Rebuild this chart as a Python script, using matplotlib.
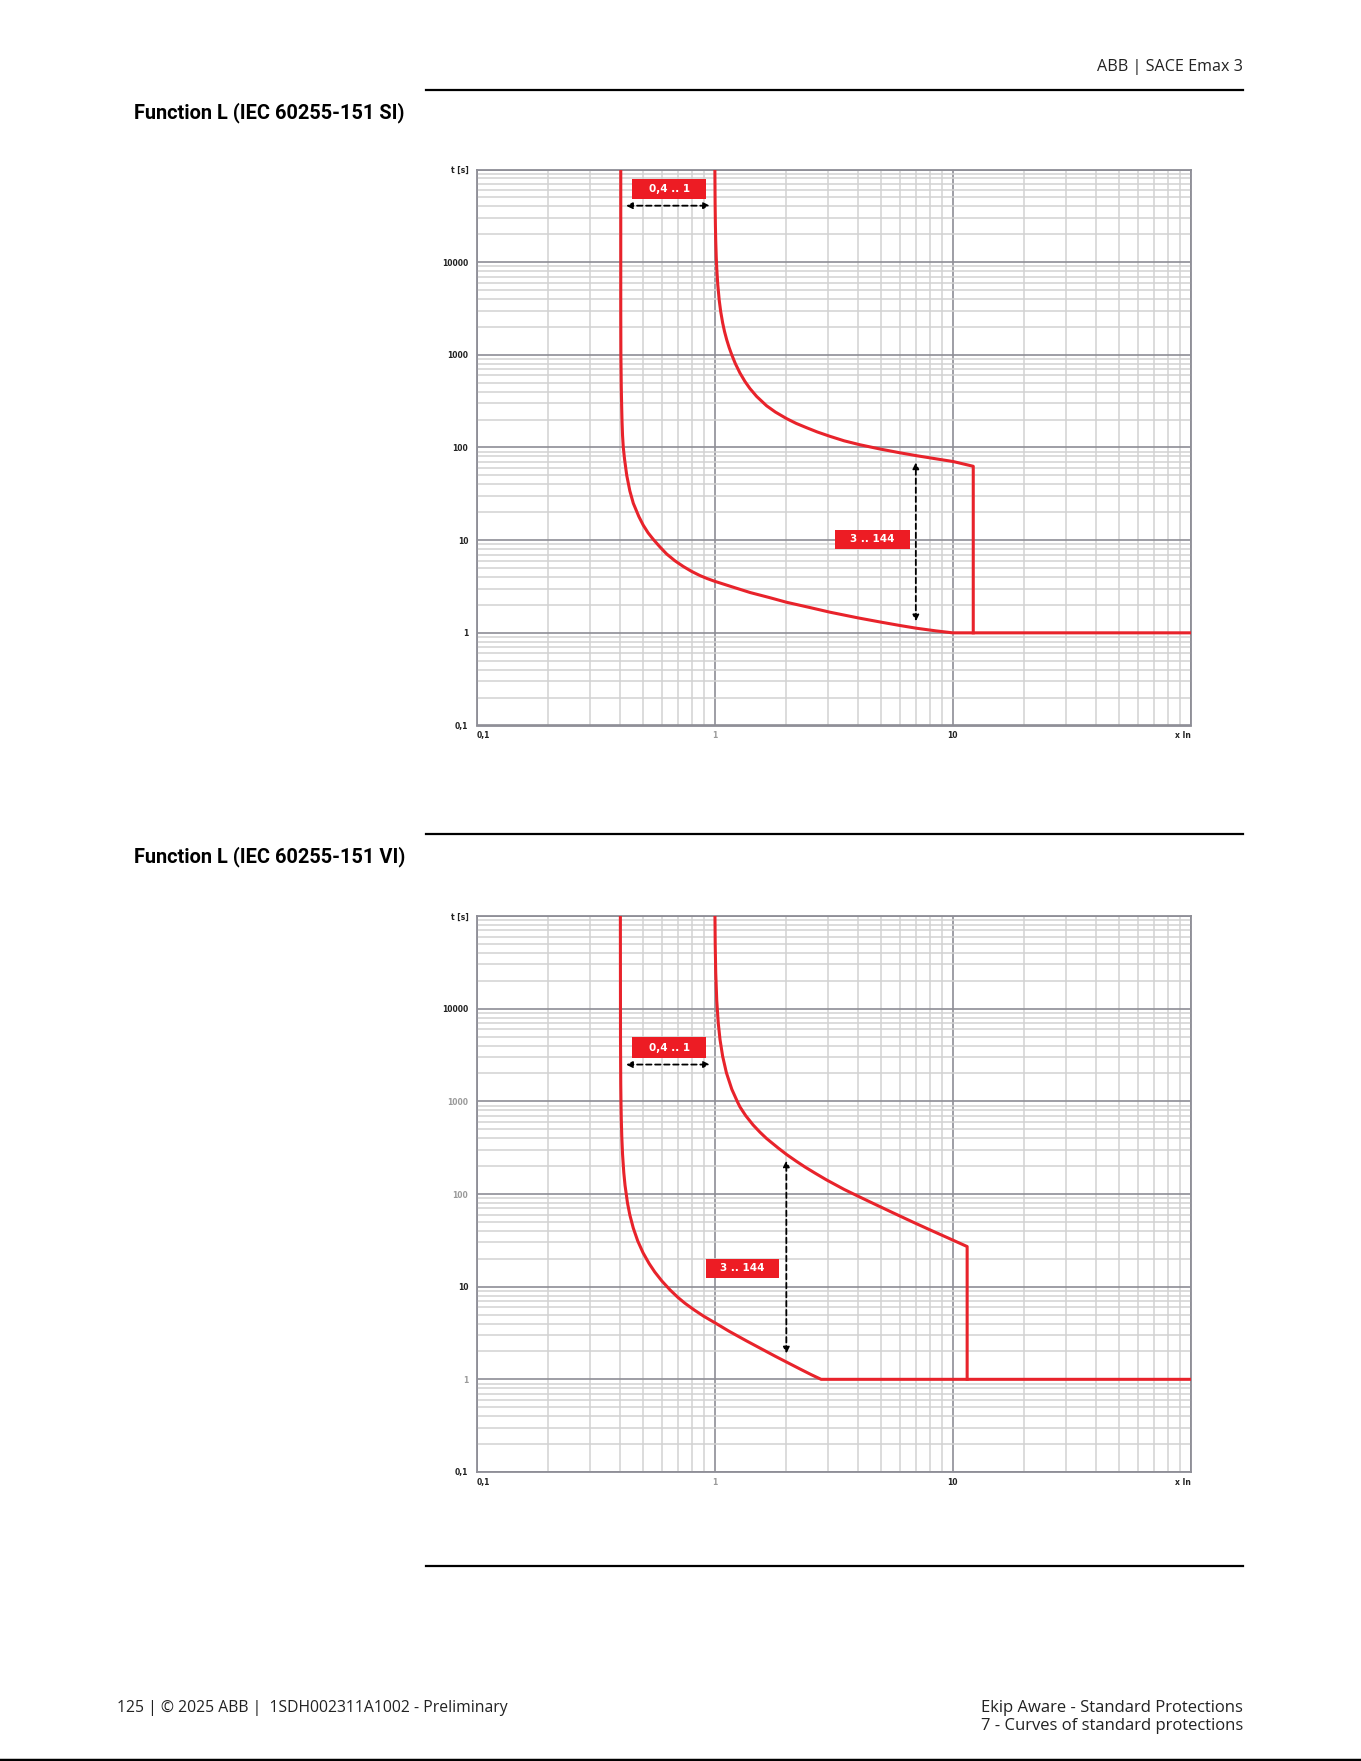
import matplotlib
matplotlib.use("Agg")
import matplotlib.pyplot as plt
from matplotlib.patches import Rectangle
from matplotlib.ticker import LogLocator, NullFormatter

# ---- data (x = I/In, t in s) ----
si_low_x = [0.403, 0.403, 0.4035, 0.405, 0.4065, 0.408, 0.410, 0.413, 0.418, 0.427, 0.440,
            0.455, 0.480, 0.501, 0.525, 0.552, 0.590, 0.628, 0.680, 0.738, 0.800, 0.867,
            0.930, 1.0, 1.2, 1.41, 1.7, 2.0, 2.5, 3.05, 4.0, 4.95, 6.0, 7.06, 8.5, 10.0, 100.0]
si_low_t = [1e5, 3000, 1000, 450, 280, 190, 135, 100, 75, 50, 34,
            25, 18, 14.5, 12, 10.2, 8.4, 7.1, 6.0, 5.2, 4.6, 4.15,
            3.85, 3.6, 3.1, 2.72, 2.4, 2.14, 1.88, 1.67, 1.45, 1.31, 1.2, 1.12, 1.05, 1.0, 1.0]
si_up_x = [1.0017, 1.004, 1.007, 1.01, 1.015, 1.02, 1.03, 1.045, 1.06, 1.08, 1.10, 1.123,
           1.15, 1.179, 1.22, 1.277, 1.34, 1.406, 1.5, 1.652, 1.8, 2.005, 2.2, 2.44, 2.7,
           3.05, 3.5, 4.08, 4.95, 6.0, 7.06, 8.5, 10.06, 12.2, 12.2]
si_up_t = [1e5, 42600, 24400, 17100, 11400, 8590, 5750, 3860, 2920, 2210, 1780, 1457,
           1198, 1003, 808, 636, 516, 433, 356, 282, 241, 205, 182, 163, 147,
           132, 118, 107, 96.3, 87.7, 81.5, 75.5, 70.5, 62.7, 1.0]

vi_low_x = [0.4015, 0.402, 0.403, 0.404, 0.405, 0.407, 0.410, 0.415, 0.420, 0.430, 0.440,
            0.455, 0.475, 0.500, 0.530, 0.560, 0.600, 0.650, 0.700, 0.750, 0.820, 0.900,
            1.0, 1.15, 1.36, 1.6, 1.8, 2.05, 2.3, 2.55, 2.8, 100.0]
vi_low_t = [1e5, 4578, 1526, 915, 654, 416, 269, 170, 124, 80.3, 59.4,
            42.8, 31.1, 23.2, 17.8, 14.4, 11.5, 9.2, 7.67, 6.62, 5.61, 4.79,
            4.09, 3.30, 2.60, 2.08, 1.77, 1.49, 1.28, 1.12, 1.0, 1.0]
vi_up_x = [1.0025, 1.005, 1.01, 1.02, 1.035, 1.053, 1.08, 1.12, 1.18, 1.25, 1.277, 1.35,
           1.45, 1.55, 1.65, 1.735, 1.85, 2.0, 2.2, 2.4, 2.65, 2.95, 3.5, 4.08, 4.8,
           5.62, 6.8, 8.03, 9.5, 11.5, 11.5]
vi_up_t = [1e5, 49000, 24500, 12250, 7000, 4620, 3060, 2033, 1350, 972, 870, 700,
           556, 464, 398, 358, 313, 268, 226, 195, 167, 142, 112, 92.5, 75.8,
           62.6, 49.8, 41.0, 33.8, 27.1, 1.0]

y_ticks = [1e5, 1e4, 1e3, 100, 10, 1, 0.1]
y_labels = ["t [s]", "10000", "1000", "100", "10", "1", "0,1"]
x_ticks = [0.1, 1, 10, 100]
x_labels = ["0,1", "1", "10", "x In"]

range_label = "0,4 .. 1"
time_label = "3 .. 144"

W, H = 1361, 1761
RED = "#e8232b"
BOX = "#ed1c24"
plt.rcParams["font.family"] = ["Open Sans", "DejaVu Sans"]

fig = plt.figure(figsize=(W / 100, H / 100), dpi=100)


def fx(x):
    return x / W


def fy(y):
    return 1 - y / H


def setup_axes(top_px, ylab_colors, xlab_colors):
    ax = fig.add_axes([fx(476.7), fy(top_px + 556), (1190.7 - 476.7) / W, 556 / H])
    ax.set_xscale("log")
    ax.set_yscale("log")
    ax.set_xlim(0.1, 100)
    ax.set_ylim(0.1, 1e5)
    ax.xaxis.set_minor_locator(LogLocator(base=10, subs=range(2, 10), numticks=20))
    ax.yaxis.set_minor_locator(LogLocator(base=10, subs=range(2, 10), numticks=20))
    ax.xaxis.set_minor_formatter(NullFormatter())
    ax.yaxis.set_minor_formatter(NullFormatter())
    ax.grid(which="minor", color="#d2d2d2", lw=1.1)
    ax.grid(which="major", color="#8e8e96", lw=1.2)
    ax.set_axisbelow(True)
    for s in ax.spines.values():
        s.set_color("#8e8e96")
        s.set_linewidth(1.3)
    ax.set_yticks(y_ticks)
    ax.set_yticklabels(y_labels, fontsize=5.5, fontweight="bold", family="DejaVu Sans")
    ax.set_xticks(x_ticks)
    ax.set_xticklabels(x_labels, fontsize=5.5, fontweight="bold", family="DejaVu Sans")
    ax.tick_params(which="both", length=0)
    ax.tick_params(axis="y", pad=6)
    ax.tick_params(axis="x", pad=4)
    for lab, c in zip(ax.get_yticklabels(), ylab_colors):
        lab.set_color(c)
    for lab, c in zip(ax.get_xticklabels(), xlab_colors):
        lab.set_color(c)
    xl = ax.get_xticklabels()
    xl[0].set_horizontalalignment("left")
    xl[-1].set_horizontalalignment("right")
    return ax


def red_box(ax, x0, x1, t0, t1, text):
    ax.add_patch(Rectangle((x0, t0), x1 - x0, t1 - t0, color=BOX, lw=0, zorder=5))
    xc = (x0 * x1) ** 0.5
    tc = (t0 * t1) ** 0.5
    ax.text(xc, tc, text, color="white", fontsize=7.5, fontweight="bold",
            family="DejaVu Sans", ha="center", va="center", zorder=6)


def dashed_arrow(ax, p0, p1):
    ax.annotate("", xy=p1, xytext=p0, zorder=6,
                arrowprops=dict(arrowstyle="<|-|>", color="black", lw=1.3,
                                linestyle=(0, (3, 2)), mutation_scale=9,
                                shrinkA=0, shrinkB=0))


dark, grey = "#222222", "#9a9a9a"

# chart 1 : SI
ax1 = setup_axes(169.5, [dark] * 7, [dark, grey, dark, dark])
ax1.plot(si_low_x, si_low_t, color=RED, lw=2.2, zorder=4)
ax1.plot(si_up_x, si_up_t, color=RED, lw=2.2, zorder=4)
red_box(ax1, 0.4506, 0.9193, 48070, 79590, range_label)
dashed_arrow(ax1, (0.424, 40700), (0.955, 40700))
red_box(ax1, 3.21, 6.62, 8.06, 13.01, time_label)
dashed_arrow(ax1, (7.0, 1.33), (7.0, 69))

# chart 2 : VI
ax2 = setup_axes(916, [dark, dark, grey, grey, dark, grey, dark], [dark, grey, dark, dark])
ax2.plot(vi_low_x, vi_low_t, color=RED, lw=2.2, zorder=4)
ax2.plot(vi_up_x, vi_up_t, color=RED, lw=2.2, zorder=4)
red_box(ax2, 0.4506, 0.9193, 2939, 4920, range_label)
dashed_arrow(ax2, (0.424, 2494), (0.955, 2494))
red_box(ax2, 0.919, 1.863, 12.42, 20.07, time_label)
dashed_arrow(ax2, (2.0, 1.90), (2.0, 230))

# page furniture
for y in (89.8, 834.3, 1566.4):
    fig.add_artist(plt.Line2D([fx(425.6), fx(1243)], [fy(y), fy(y)], color="black", lw=1.6))
fig.add_artist(plt.Line2D([0, 1], [fy(1759.5), fy(1759.5)], color="black", lw=2.5))

title_font = ["Roboto", "DejaVu Sans"]
fig.text(fx(1243), fy(67.4), "ABB | SACE Emax 3", ha="right", va="center", fontsize=11.6, color="#222222")
fig.text(fx(133.6), fy(112.3), "Function L (IEC 60255-151 SI)", ha="left", va="center",
         fontsize=14.4, fontweight="bold", color="black", family=title_font)
fig.text(fx(133.6), fy(856.8), "Function L (IEC 60255-151 VI)", ha="left", va="center",
         fontsize=14.4, fontweight="bold", color="black", family=title_font)
fig.text(fx(116.8), fy(1708), "125 | © 2025 ABB |  1SDH002311A1002 - Preliminary", ha="left",
         va="center", fontsize=11.3, color="#222222")
fig.text(fx(1243), fy(1708), "Ekip Aware - Standard Protections", ha="right", va="center",
         fontsize=12, color="#222222")
fig.text(fx(1243), fy(1725.5), "7 - Curves of standard protections", ha="right", va="center",
         fontsize=12, color="#222222")

fig.savefig("out.png", dpi=100, facecolor="white")
